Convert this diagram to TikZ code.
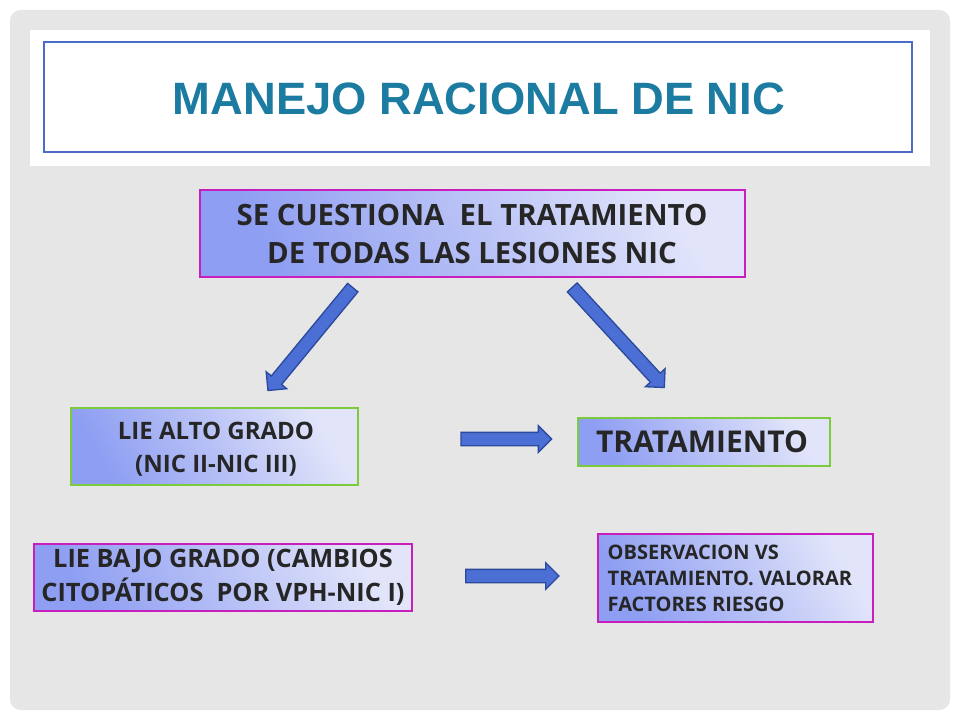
\documentclass[tikz,border=0pt]{standalone}
\usepackage{fontspec}
\setmainfont{Open Sans}
\newfontfamily\titlefont{Liberation Sans}
\usetikzlibrary{shapes.arrows}
\definecolor{panel}{HTML}{E6E6E6}
\definecolor{ttl}{HTML}{1B7BA0}
\definecolor{bord}{HTML}{4A6CC8}
\definecolor{mag}{HTML}{C81EBE}
\definecolor{grn}{HTML}{7CCB3C}
\definecolor{gA}{HTML}{8E9EF2}
\definecolor{gB}{HTML}{E2E5FA}
\definecolor{arrf}{HTML}{4C6FD6}
\definecolor{arrd}{HTML}{2C4A9C}
\definecolor{txt}{HTML}{262626}
\tikzset{
 box/.style={draw=#1,line width=1.6pt,left color=gA,right color=gB,shading angle=120},
 lbl/.style={font=\bfseries,text=txt,align=center},
 barrow/.style={single arrow,draw=arrd,fill=arrf,line width=1pt,inner sep=0pt,inner ysep=4.5pt,single arrow head extend=5pt,minimum height=#1}
}
\begin{document}
\begin{tikzpicture}[x=0.75pt,y=-0.75pt]
\useasboundingbox (0,0) rectangle (960,720);
\fill[white] (0,0) rectangle (960,720);
\fill[panel,rounded corners=8pt] (10,10) rectangle (950,710);
\fill[white] (30,30) rectangle (930,166);
\draw[bord,line width=2pt] (44,42) rectangle (912,152);
\node[font=\titlefont\bfseries\fontsize{34}{40}\selectfont,text=ttl] (title) at (479,99) {MANEJO RACIONAL DE NIC};
% boxes
\path[box=mag] (200,190) rectangle (745,277);
\node[lbl,font=\bfseries\fontsize{22}{28.5}\selectfont] (top) at (472,234) {SE CUESTIONA\ \ EL TRATAMIENTO\\DE TODAS LAS LESIONES NIC};
\path[box=grn] (71,408) rectangle (358,485);
\node[lbl,font=\bfseries\fontsize{18}{24.5}\selectfont] (alto) at (216,449) {LIE ALTO GRADO\\(NIC II-NIC III)};
\path[box=grn] (578,418) rectangle (830,466);
\node[lbl,font=\bfseries\fontsize{22.5}{26}\selectfont] (trat) at (702,442) {TRATAMIENTO};
\path[box=mag] (34,544) rectangle (412,611);
\node[lbl,font=\bfseries\fontsize{19}{25.5}\selectfont] (bajo) at (223,577) {LIE BAJO GRADO (CAMBIOS\\CITOPÁTICOS\ \ POR VPH-NIC I)};
\path[box=mag] (598,534) rectangle (873,622);
\node[lbl,align=left,font=\bfseries\fontsize{15}{19.5}\selectfont,anchor=west] (obs) at (603,578) {OBSERVACION VS\\TRATAMIENTO. VALORAR\\FACTORES RIESGO};
% arrows
\coordinate (a1) at (312.5,336.5);
\node[barrow=100pt,rotate=-129.5] (arr1) at (a1) {};
\coordinate (a2) at (616,335);
\node[barrow=102pt,rotate=-47.4] (arr2) at (a2) {};
\node[barrow=68pt] (arr3) at (503,439) {};
\node[barrow=70pt] (arr4) at (509,576) {};
\end{tikzpicture}
\end{document}
